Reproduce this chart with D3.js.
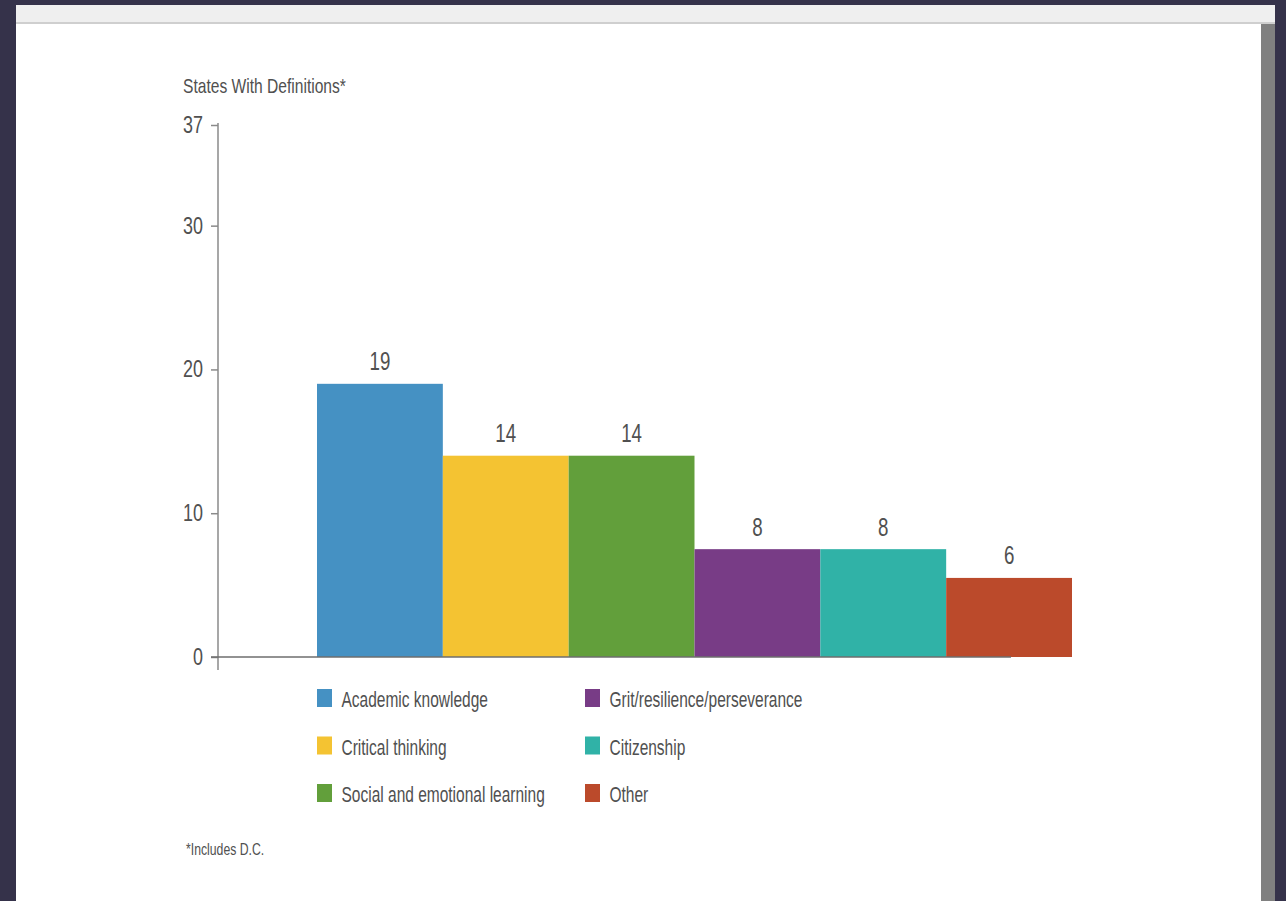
<!DOCTYPE html>
<html>
<head>
<meta charset="utf-8">
<script src="https://cdn.jsdelivr.net/npm/d3@7"></script>
<style>
  body { margin: 0; background: #35324a; }
  svg text { font-family: "Liberation Sans", Arial, sans-serif; fill: #505050; }
</style>
</head>
<body>
<div id="chart"></div>
<script>
// chart data
var categories = ["Academic knowledge", "Critical thinking", "Social and emotional learning",
  "Grit/resilience/perseverance", "Citizenship", "Other"];
var values = [19, 14, 14, 7.5, 7.5, 5.5];
var colors = ["#4591c3", "#f4c332", "#629f3b", "#783c86", "#30b2a7", "#bb4a2b"];
var yTicks = [0, 10, 20, 30, 37];

var svgWidth = 1286;
var svgHeight = 901;

// no condensed font installed, so squeeze Liberation Sans sideways
// (moves x/y into the transform so the scale does not shift the text)
function squeeze(sel, k) {
  sel.each(function() {
    var t = d3.select(this);
    var x = +t.attr("x") || 0;
    var y = +t.attr("y") || 0;
    t.attr("x", 0).attr("y", 0)
      .attr("transform", `translate(${x}, ${y}) scale(${k}, 1)`);
  });
}

var svg = d3.select("#chart")
  .append("svg")
  .attr("width", svgWidth)
  .attr("height", svgHeight)
  .style("display", "block");

// the page frame from the screenshot
svg.append("rect").attr("width", svgWidth).attr("height", svgHeight).attr("fill", "#35324a");
svg.append("rect").attr("x", 16).attr("y", 5).attr("width", 1259).attr("height", 18).attr("fill", "#efefef");
svg.append("rect").attr("x", 16).attr("y", 22).attr("width", 1259).attr("height", 2).attr("fill", "#cfcfcf");
svg.append("rect").attr("x", 16).attr("y", 24).attr("width", 1245).attr("height", svgHeight - 24).attr("fill", "#ffffff");
svg.append("rect").attr("x", 1261).attr("y", 24).attr("width", 14).attr("height", svgHeight - 24).attr("fill", "#808080");

//scales
var xBandScale = d3.scaleBand()
  .domain(categories)
  .range([317, 1072])
  .padding(0);

var yLinearScale = d3.scaleLinear()
  .domain([0, 37])
  .range([657, 125]);

var axisX = 218;

// y axis title
svg.append("text")
  .attr("x", 183)
  .attr("y", 93)
  .attr("font-size", "20px")
  .text("States With Definitions*")
  .call(squeeze, 0.78);

// y axis, domain line drawn by hand so it runs below the baseline
var leftAxis = d3.axisLeft(yLinearScale)
  .tickValues(yTicks)
  .tickSize(7)
  .tickPadding(8);

var yAxisGroup = svg.append("g")
  .attr("transform", `translate(${axisX}, 0)`)
  .call(leftAxis);
yAxisGroup.select(".domain").remove();
yAxisGroup.selectAll(".tick line").attr("stroke", "#8a8a8a").attr("stroke-width", 1.5);
yAxisGroup.selectAll(".tick text")
  .attr("font-size", "23px")
  .attr("fill", "#505050")
  .attr("font-family", null)
  .call(squeeze, 0.78);

svg.append("line")
  .attr("x1", axisX).attr("x2", axisX)
  .attr("y1", yLinearScale(37) - 2)
  .attr("y2", yLinearScale(0) + 13)
  .attr("stroke", "#8a8a8a")
  .attr("stroke-width", 1.5);

// bars
svg.selectAll(".bar")
  .data(values)
  .enter()
  .append("rect")
  .attr("class", "bar")
  .attr("x", (d, i) => xBandScale(categories[i]))
  .attr("y", d => yLinearScale(d))
  .attr("width", xBandScale.bandwidth())
  .attr("height", d => yLinearScale(0) - yLinearScale(d))
  .attr("fill", (d, i) => colors[i]);

// baseline
svg.append("line")
  .attr("x1", axisX - 7)
  .attr("x2", 1011)
  .attr("y1", yLinearScale(0))
  .attr("y2", yLinearScale(0))
  .attr("stroke", "#6e6e6e")
  .attr("stroke-width", 1.5);

// value labels, rounded like in the original
var fmt = d3.format(".0f");
svg.selectAll(".barLabel")
  .data(values)
  .enter()
  .append("text")
  .attr("class", "barLabel")
  .attr("x", (d, i) => xBandScale(categories[i]) + xBandScale.bandwidth() / 2)
  .attr("y", d => yLinearScale(d) - 13.5)
  .attr("text-anchor", "middle")
  .attr("font-size", "26px")
  .text(d => fmt(d))
  .call(squeeze, 0.72);

// legend, 2 columns x 3 rows
var legendCols = [317, 585];
var legendRows = [707, 754.5, 802];

var legend = svg.selectAll(".legendItem")
  .data(categories)
  .enter()
  .append("g")
  .attr("class", "legendItem")
  .attr("transform", (d, i) => `translate(${legendCols[Math.floor(i / 3)]}, ${legendRows[i % 3]})`);

legend.append("rect")
  .attr("x", 0)
  .attr("y", -18)
  .attr("width", 15)
  .attr("height", 18)
  .attr("fill", (d, i) => colors[i]);

legend.append("text")
  .attr("x", 24.5)
  .attr("y", 0)
  .attr("font-size", "22px")
  .text(d => d)
  .call(squeeze, 0.705);

// footnote
svg.append("text")
  .attr("x", 186)
  .attr("y", 855)
  .attr("font-size", "17px")
  .text("*Includes D.C.")
  .call(squeeze, 0.72);
</script>
</body>
</html>
